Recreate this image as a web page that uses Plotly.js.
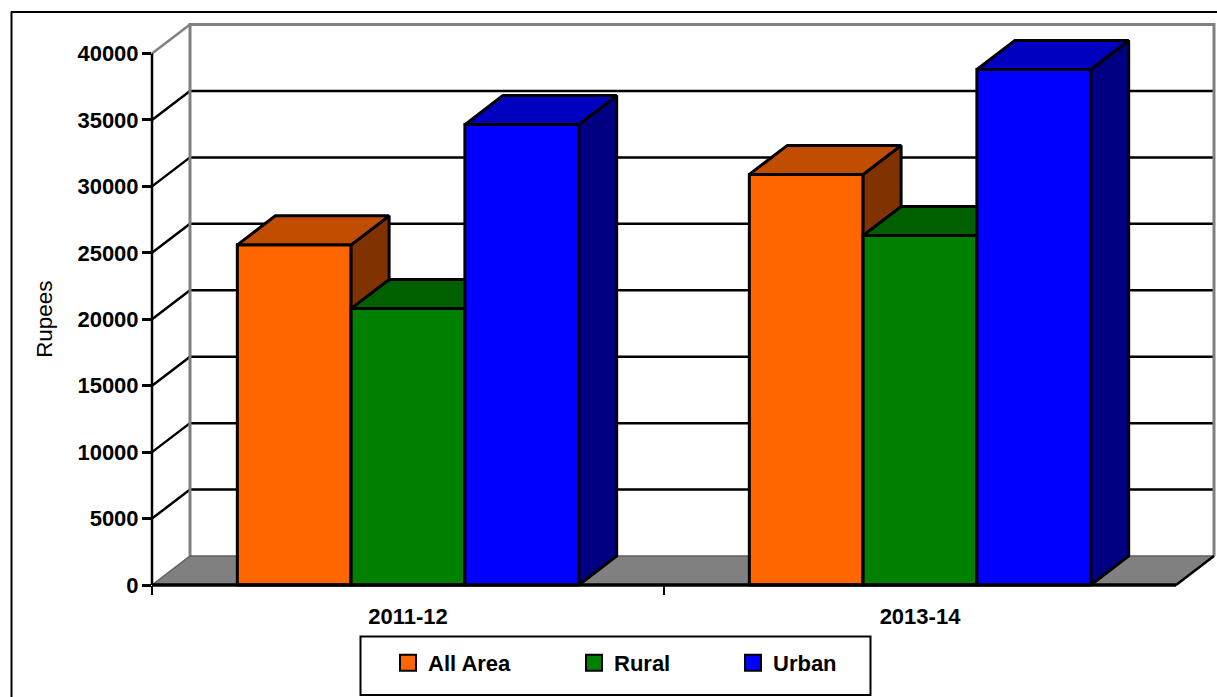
<!DOCTYPE html>
<html>
<head>
<meta charset="utf-8">
<script src="https://cdn.plot.ly/plotly-3.0.1.min.js"></script>
<style>html,body{margin:0;padding:0;background:#fff;overflow:hidden}</style>
</head>
<body>
<div id="chart" style="width:1217px;height:697px"></div>
<script>
var categories = ['2011-12', '2013-14'];
var allArea = [25600, 30900];
var rural = [20800, 26300];
var urban = [34650, 38800];
var yTicks = [0, 5000, 10000, 15000, 20000, 25000, 30000, 35000, 40000];

var W = 1217, H = 697, L = 152, R = 1176, T = 53.5, B = 585;
var mL = 140, mT = 15;
var PW = W - mL, PH = H - mT;
var pxX = (R - L) / 2, pxY = (B - T) / 40000;
var dx = 38 / pxX, dy = 29 / pxY;
var barW = 2 / 9;
var FONT = 'Liberation Sans, Arial, sans-serif';
var xs = categories.map(function (_, i) { return i; });
var paperX = function (p) { return (p - mL) / PW; };
var paperY = function (p) { return (H - p) / PH; };
var x0 = -0.5, x1 = 1.5;
var fullX = [x0 - (L - mL) / pxX, x0 + (W - L) / pxX];
var fullY = [-(H - B) / pxY, (B - mT) / pxY];

function poly(axisId, xv, yv, fill, lineColor, width) {
  return { type: 'scatter', mode: 'lines', x: xv, y: yv, xaxis: 'x' + axisId, yaxis: 'y' + axisId,
    fill: fill ? 'toself' : 'none', fillcolor: fill || undefined,
    line: { color: lineColor, width: width, simplify: false },
    hoverinfo: 'skip', showlegend: false };
}

function series(name, values, offset, axisId, front, top, side) {
  var tx = [], ty = [], sx = [], sy = [];
  values.forEach(function (v, i) {
    var a = i + offset, b = a + barW;
    tx.push(a, b, b + dx, a + dx, a, null);
    ty.push(v, v, v + dy, v + dy, v, null);
    sx.push(b, b + dx, b + dx, b, b, null);
    sy.push(v, v + dy, dy, 0, v, null);
  });
  return [
    { type: 'bar', name: name, x: xs, y: values, width: barW, offset: offset,
      xaxis: 'x' + axisId, yaxis: 'y' + axisId, showlegend: false,
      marker: { color: front, line: { color: '#000', width: 3 } }, hoverinfo: 'x+y+name' },
    poly(axisId, sx, sy, side, '#000', 3),
    poly(axisId, tx, ty, top, '#000', 3)
  ];
}

var gridX = [], gridY = [];
yTicks.slice(1, -1).forEach(function (v) {
  gridX.push(x0, x0 + dx, x1 + dx, null);
  gridY.push(v, v + dy, v + dy, null);
});

var traces = [];
[['All Area', '#FF6600', 'legend'], ['Rural', '#008000', 'legend2'], ['Urban', '#0000FF', 'legend3']].forEach(function (e) {
  traces.push({ type: 'scatter', mode: 'markers', name: e[0], x: [null], y: [null], legend: e[2],
    marker: { symbol: 'square', size: 16, color: e[1], line: { color: '#000', width: 2 } }, hoverinfo: 'skip' });
});
traces.push(
  poly('2', gridX, gridY, null, '#000', 2.5),
  poly('2', [x0 + dx, x0 + dx, x1 + dx, x1 + dx], [dy, 40000 + dy, 40000 + dy, dy], null, '#808080', 3),
  poly('2', [x0, x0 + dx], [40000, 40000 + dy], null, '#808080', 2.5),
  poly('2', [x0, x1, x1 + dx, x0 + dx, x0], [0, 0, dy, dy, 0], '#808080', '#5f5f5f', 1.5),
  poly('2', [x1, x1 + dx], [0, dy], null, '#000', 2.5)
);
traces = traces.concat(
  series('All Area', allArea, -1 / 3, '3', '#FF6600', '#C04D00', '#803300'),
  series('Rural', rural, -1 / 9, '4', '#008000', '#006000', '#004000'),
  series('Urban', urban, 1 / 9, '5', '#0000FF', '#0000C0', '#000080')
);
traces.push(poly('5', [x0, x1], [0, 0], null, '#000', 3.5));
traces.push(poly('5', [x0, x0], [0, 40000], null, '#000', 2.5));

function legendAt(px) {
  return { x: paperX(px), y: paperY(642), xanchor: 'left', yanchor: 'top', bgcolor: 'rgba(0,0,0,0)',
    borderwidth: 0, itemclick: false, itemdoubleclick: false,
    font: { family: FONT, size: 22, weight: 700, color: '#000' } };
}
function fullAxis(letter, over) {
  var o = { anchor: letter === 'x' ? 'y2' : 'x2', visible: false, showgrid: false, zeroline: false, fixedrange: true,
    domain: [0, 1], range: letter === 'x' ? fullX : fullY };
  if (over) o.overlaying = letter + '2';
  return o;
}

var layout = {
  width: W, height: H, autosize: false,
  margin: { l: mL, r: 0, t: mT, b: 0, pad: 0 },
  paper_bgcolor: '#fff', plot_bgcolor: 'rgba(0,0,0,0)',
  barmode: 'overlay', showlegend: true,
  font: { family: FONT, color: '#000' },
  xaxis: { type: 'linear', anchor: 'y', domain: [paperX(L), paperX(R)], range: [x0, x1], tickmode: 'array', tickvals: xs, ticktext: categories,
    ticks: '', showgrid: false, zeroline: false, showline: false, fixedrange: true, ticklabelstandoff: 16,
    tickfont: { family: FONT, size: 22, weight: 700, color: '#000' },
    minor: { tickmode: 'array', tickvals: [x0, 0.5], ticks: 'outside', ticklen: 9, tickwidth: 2, tickcolor: '#000', showgrid: false } },
  yaxis: { type: 'linear', anchor: 'x', domain: [paperY(B), paperY(T)], range: [0, 40000], tickmode: 'array', tickvals: yTicks, ticktext: yTicks.map(String),
    ticks: 'outside', ticklen: 9, tickwidth: 2.5, tickcolor: '#000', showgrid: false, zeroline: false, showline: false,
    ticklabelstandoff: -1,
    fixedrange: true, tickfont: { family: FONT, size: 22, weight: 700, color: '#000' },
    title: { text: 'Rupees', standoff: 18, font: { family: FONT, size: 22.4, color: '#000' } } },
  xaxis2: fullAxis('x'), yaxis2: fullAxis('y'),
  xaxis3: fullAxis('x', true), yaxis3: fullAxis('y', true),
  xaxis4: fullAxis('x', true), yaxis4: fullAxis('y', true),
  xaxis5: fullAxis('x', true), yaxis5: fullAxis('y', true),
  legend: legendAt(388), legend2: legendAt(574), legend3: legendAt(733),
  shapes: [
    { type: 'line', xref: 'paper', yref: 'paper', x0: paperX(11.5), x1: paperX(11.5), y0: paperY(11.5), y1: paperY(700), line: { color: '#000', width: 2 } },
    { type: 'line', xref: 'paper', yref: 'paper', x0: paperX(11), x1: paperX(1220), y0: paperY(12), y1: paperY(12), line: { color: '#000', width: 2 } },
    { type: 'rect', xref: 'paper', yref: 'paper', x0: paperX(360.5), x1: paperX(870.5), y0: paperY(636.5), y1: paperY(695), line: { color: '#000', width: 2 }, fillcolor: '#fff' }
  ]
};
Plotly.newPlot('chart', traces, layout, { displayModeBar: false });
</script>
</body>
</html>
